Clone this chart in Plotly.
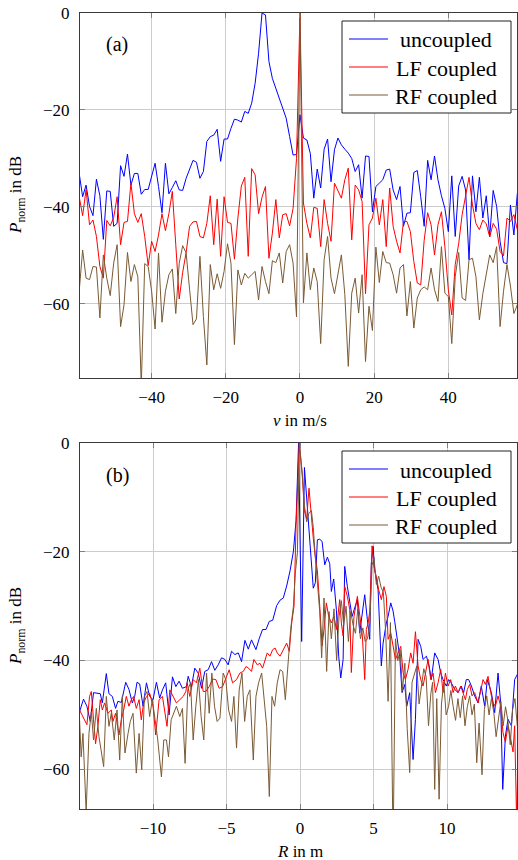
import plotly.graph_objects as go

SERIF = "'Liberation Serif', 'Times New Roman', serif"
BLUE = "#0000ff"
RED = "#ff0000"
BROWN = "rgb(122,90,52)"

# ---------------- (a) Doppler spectrum, P_norm in dB over v in m/s ----------------
V_STEP = 0.93
v_bins = [round(V_STEP * k, 2) for k in range(-64, 65)]

uncoupled_v = [
    -33.1, -37.9, -35.5, -39.9, -41.8, -34.3, -37.7, -46.7, -36.7, -36.8,
    -44.0, -43.4, -31.5, -33.7, -29.1, -35.5, -33.1, -33.1, -37.4, -36.4,
    -36.4, -33.4, -31.0, -35.8, -41.2, -31.0, -37.3, -36.0, -34.6, -36.5,
    -36.6, -34.1, -32.2, -30.4, -30.8, -34.1, -32.7, -26.5, -25.5, -25.2,
    -24.0, -30.6, -26.0, -26.0, -23.8, -21.9, -22.1, -22.5, -20.3, -20.7,
    -18.6, -14.5, -8.3, 0.0, -0.4, -10.0, -13.5, -15.5, -17.6, -19.3,
    -21.7, -25.5, -29.3, -29.2, -21.0, -25.8, -26.2, -29.0, -38.2, -32.2,
    -36.1, -28.1, -26.0, -34.8, -28.2, -25.8, -27.2, -28.1, -28.9, -30.0,
    -32.7, -31.3, -38.2, -29.5, -29.6, -41.0, -35.8, -35.1, -34.4, -32.4,
    -32.2, -36.5, -38.5, -35.8, -44.0, -41.3, -41.2, -32.9, -32.5, -37.9,
    -44.0, -30.4, -34.4, -29.5, -34.4, -37.7, -40.3, -45.1, -33.6, -46.1,
    -35.7, -33.7, -36.5, -50.9, -33.6, -41.0, -33.9, -42.3, -37.7, -46.1,
    -36.6, -39.9, -47.1, -51.5, -51.7, -39.6, -45.8, -37.2, -38.5,
]
lf_v = [
    -37.9, -41.8, -36.4, -43.7, -42.7, -46.1, -52.3, -54.7, -42.8, -43.9,
    -42.2, -37.9, -47.8, -43.2, -43.0, -35.1, -41.4, -43.2, -41.4, -46.1,
    -52.1, -47.1, -49.2, -45.8, -41.4, -44.9, -41.4, -36.8, -47.8, -59.0,
    -53.5, -49.4, -44.0, -43.1, -43.0, -46.1, -46.4, -43.4, -37.7, -47.8,
    -38.4, -50.2, -37.9, -43.2, -43.4, -50.8, -42.3, -35.7, -33.9, -50.2,
    -32.1, -33.4, -41.4, -38.0, -35.8, -50.6, -45.4, -38.5, -46.4, -41.6,
    -41.4, -43.9, -40.3, -30.0, 0.0, -39.2, -43.4, -46.4, -40.1, -40.3,
    -48.2, -38.5, -43.4, -47.1, -35.1, -36.8, -38.2, -34.4, -32.0, -46.8,
    -35.5, -36.5, -38.9, -57.9, -43.7, -42.3, -38.2, -43.7, -38.5, -48.2,
    -36.1, -44.0, -47.1, -49.5, -43.0, -43.0, -45.1, -51.3, -55.7, -56.1,
    -46.9, -41.2, -43.7, -49.9, -43.7, -41.0, -48.2, -57.1, -62.3, -51.9,
    -47.6, -41.6, -37.9, -33.9, -39.6, -43.4, -44.7, -42.7, -43.5, -46.2,
    -43.4, -44.6, -49.2, -50.1, -42.3, -43.0, -41.6, -44.7, -40.0,
]
rf_v = [
    -57.4, -48.9, -54.7, -55.0, -52.3, -52.4, -62.9, -49.9, -54.7, -58.3,
    -51.6, -47.8, -64.7, -60.2, -49.4, -55.4, -51.9, -54.4, -77.0, -51.7,
    -52.3, -57.4, -65.2, -49.5, -63.8, -57.4, -54.0, -52.8, -62.0, -51.6,
    -48.0, -49.5, -57.0, -64.3, -63.1, -50.2, -62.6, -72.6, -51.9, -57.1,
    -53.8, -56.8, -53.3, -47.6, -51.6, -68.4, -53.0, -56.1, -53.7, -54.7,
    -54.0, -53.3, -59.2, -52.3, -55.4, -57.9, -51.1, -51.5, -49.5, -55.7,
    -49.2, -47.8, -51.6, -62.7, 0.0, -59.8, -49.5, -57.1, -52.6, -55.4,
    -68.2, -50.9, -46.1, -54.7, -57.9, -53.7, -49.9, -58.1, -72.9, -57.8,
    -54.7, -61.9, -54.0, -71.9, -60.5, -65.5, -48.3, -55.6, -49.2, -51.5,
    -51.6, -54.0, -57.8, -52.6, -51.9, -62.5, -55.4, -65.0, -58.8, -57.1,
    -56.5, -57.1, -52.6, -57.1, -59.5, -48.2, -57.8, -58.5, -68.2, -54.4,
    -49.4, -58.8, -59.3, -50.9, -50.6, -54.4, -63.3, -57.9, -54.0, -49.9,
    -51.5, -48.2, -64.7, -57.4, -51.9, -56.3, -62.0, -60.2, -57.0,
]

# ---------------- (b) range profile, (R in m, P_norm in dB) ----------------
uncoupled_r = [
    (-15.0, -49.4), (-14.73, -47.1), (-14.5, -48.4), (-14.27, -51.2), (-14.05, -45.9),
    (-13.82, -46.0), (-13.59, -46.1), (-13.45, -47.8), (-13.18, -42.4), (-13.0, -46.1),
    (-12.77, -46.6), (-12.55, -48.8), (-12.39, -47.5), (-12.16, -47.7), (-11.86, -44.0),
    (-11.64, -45.3), (-11.41, -47.8), (-11.25, -46.6), (-11.09, -44.0), (-10.91, -44.3),
    (-10.68, -48.4), (-10.45, -44.1), (-10.23, -46.6), (-10.0, -47.2), (-9.77, -44.0),
    (-9.55, -46.9), (-9.36, -45.4), (-9.14, -44.1), (-8.91, -50.0), (-8.68, -43.0),
    (-8.45, -44.8), (-8.23, -43.8), (-8.0, -45.1), (-7.73, -44.8), (-7.61, -42.9),
    (-7.39, -44.8), (-7.16, -41.4), (-6.93, -42.3), (-6.7, -45.1), (-6.48, -42.0),
    (-6.25, -41.7), (-6.02, -40.2), (-5.8, -41.8), (-5.57, -40.8), (-5.34, -39.5),
    (-5.11, -39.8), (-4.89, -40.8), (-4.66, -38.3), (-4.43, -38.9), (-4.2, -38.6),
    (-3.98, -40.2), (-3.75, -36.3), (-3.52, -37.9), (-3.3, -36.2), (-3.0, -38.0),
    (-2.77, -35.9), (-2.55, -34.3), (-2.32, -34.3), (-2.09, -32.8), (-1.86, -32.6),
    (-1.59, -29.9), (-1.36, -28.9), (-1.14, -28.5), (-0.91, -26.3), (-0.68, -23.5),
    (-0.45, -19.9), (-0.27, -14.2), (-0.1, 0.0), (0.11, -36.5), (0.3, -4.5),
    (0.5, -12.0), (0.7, -21.0), (0.9, -26.7), (1.04, -25.7), (1.18, -17.8),
    (1.34, -17.7), (1.5, -18.1), (1.68, -22.4), (1.86, -21.0), (2.02, -22.2),
    (2.13, -27.3), (2.29, -25.0), (2.47, -30.6), (2.63, -39.2), (2.77, -43.2),
    (2.93, -39.8), (3.04, -22.7), (3.22, -26.4), (3.38, -28.8), (3.54, -31.9),
    (3.72, -30.3), (3.9, -28.8), (4.06, -34.9), (4.22, -31.3), (4.4, -27.9),
    (4.58, -32.5), (4.74, -36.1), (4.85, -22.1), (4.97, -19.0), (5.08, -23.3),
    (5.31, -27.0), (5.53, -41.0), (5.65, -36.8), (5.87, -33.1), (5.99, -31.9),
    (6.17, -29.4), (6.33, -30.9), (6.44, -32.8), (6.62, -36.1), (6.78, -39.2),
    (6.94, -45.9), (7.12, -44.4), (7.26, -48.4), (7.46, -45.9), (7.69, -58.2),
    (7.85, -50.8), (8.03, -36.1), (8.21, -37.4), (8.37, -39.8), (8.6, -39.2),
    (8.78, -41.0), (8.93, -43.5), (9.16, -38.6), (9.39, -39.8), (9.57, -42.3),
    (9.73, -43.5), (9.95, -44.7), (10.11, -43.5), (10.29, -44.1), (10.52, -45.3),
    (10.75, -45.9), (10.97, -44.7), (11.13, -45.9), (11.31, -43.5), (11.47, -43.5),
    (11.66, -44.7), (11.88, -46.5), (12.11, -47.8), (12.33, -44.7), (12.56, -48.4),
    (12.74, -43.5), (13.02, -45.9), (13.24, -49.6), (13.47, -42.3), (13.65, -47.8),
    (13.79, -63.7), (13.97, -53.9), (14.15, -50.8), (14.38, -52.0), (14.6, -43.5),
    (14.83, -42.3),
]
lf_r = [
    (-15.0, -49.1), (-14.82, -50.0), (-14.66, -50.9), (-14.5, -51.8), (-14.32, -46.6),
    (-14.2, -45.7), (-14.05, -50.9), (-13.91, -55.3), (-13.75, -52.1), (-13.59, -47.2),
    (-13.45, -49.1), (-13.3, -47.8), (-13.07, -49.7), (-12.84, -49.1), (-12.73, -51.2),
    (-12.55, -49.7), (-12.32, -53.7), (-12.16, -50.9), (-12.0, -49.1), (-11.82, -46.6),
    (-11.64, -48.4), (-11.48, -47.2), (-11.32, -46.6), (-11.14, -48.8), (-10.95, -47.2),
    (-10.8, -50.9), (-10.64, -47.8), (-10.45, -46.6), (-10.23, -46.0), (-10.0, -48.4),
    (-9.82, -53.7), (-9.59, -47.2), (-9.36, -46.6), (-9.2, -49.7), (-9.05, -52.1),
    (-8.86, -45.4), (-8.64, -46.6), (-8.41, -47.8), (-8.18, -47.2), (-7.95, -46.6),
    (-7.77, -45.7), (-7.68, -44.1), (-7.5, -46.6), (-7.27, -43.5), (-7.05, -44.1),
    (-6.82, -41.4), (-6.59, -45.7), (-6.41, -45.7), (-6.18, -44.8), (-5.95, -43.4),
    (-5.73, -43.5), (-5.5, -45.1), (-5.27, -44.8), (-5.05, -43.4), (-4.82, -41.7),
    (-4.59, -44.1), (-4.32, -43.5), (-4.09, -42.3), (-3.86, -42.0), (-3.68, -41.1),
    (-3.5, -41.4), (-3.3, -42.0), (-3.14, -39.8), (-2.91, -40.8), (-2.73, -40.5),
    (-2.55, -41.4), (-2.39, -40.2), (-2.23, -38.6), (-2.05, -39.2), (-1.86, -38.0),
    (-1.7, -37.7), (-1.55, -38.6), (-1.36, -39.2), (-1.14, -38.0), (-0.91, -36.8),
    (-0.73, -38.3), (-0.57, -33.1), (-0.41, -30.0), (-0.27, -15.0), (-0.05, 0.0),
    (0.15, -6.0), (0.3, -12.5), (0.45, -14.0), (0.61, -8.3), (0.77, -14.0),
    (0.9, -17.5), (1.04, -21.0), (1.18, -23.5), (1.34, -30.0), (1.5, -37.3),
    (1.63, -34.3), (1.79, -29.4), (1.95, -31.9), (2.13, -33.1), (2.31, -31.9),
    (2.47, -34.3), (2.7, -28.8), (2.81, -33.1), (2.93, -35.5), (3.04, -26.4),
    (3.22, -28.2), (3.38, -30.6), (3.49, -42.2), (3.67, -31.9), (3.9, -28.2),
    (4.06, -31.3), (4.24, -35.5), (4.4, -43.5), (4.51, -34.3), (4.63, -33.1),
    (4.74, -31.0), (4.9, -18.9), (5.03, -22.8), (5.19, -24.6), (5.35, -27.0),
    (5.53, -28.8), (5.71, -26.4), (5.87, -28.2), (5.99, -36.1), (6.17, -34.9),
    (6.33, -37.4), (6.49, -39.8), (6.67, -38.6), (6.85, -37.4), (7.01, -42.2),
    (7.17, -43.5), (7.35, -41.6), (7.53, -38.6), (7.69, -40.5), (7.85, -34.7),
    (8.03, -41.0), (8.21, -43.5), (8.37, -44.7), (8.53, -42.2), (8.71, -39.8),
    (8.89, -43.5), (9.05, -42.3), (9.21, -45.9), (9.39, -44.1), (9.57, -41.6),
    (9.73, -45.9), (9.89, -42.3), (10.07, -44.7), (10.25, -43.5), (10.41, -45.9),
    (10.57, -44.7), (10.75, -45.9), (10.93, -44.7), (11.09, -45.9), (11.25, -47.2),
    (11.38, -45.3), (11.54, -44.4), (11.7, -46.5), (11.88, -45.9), (12.11, -47.8),
    (12.29, -45.3), (12.45, -43.5), (12.61, -44.4), (12.79, -42.9), (12.97, -45.9),
    (13.13, -47.8), (13.29, -48.4), (13.47, -46.5), (13.65, -48.4), (13.81, -53.3),
    (13.97, -55.0), (14.15, -52.0), (14.33, -54.4), (14.49, -56.8), (14.6, -52.0),
    (14.73, -69.0), (14.9, -50.0),
]
rf_r = [
    (-15.0, -50.9), (-14.89, -57.7), (-14.77, -53.4), (-14.66, -60.7), (-14.55, -67.8),
    (-14.36, -53.4), (-14.2, -49.4), (-14.05, -54.6), (-13.86, -48.8), (-13.68, -54.0),
    (-13.5, -57.0), (-13.36, -59.5), (-13.18, -46.6), (-13.0, -52.1), (-12.84, -49.7),
    (-12.64, -54.6), (-12.45, -49.1), (-12.27, -58.3), (-12.09, -46.6), (-11.91, -57.0),
    (-11.7, -53.4), (-11.55, -51.2), (-11.36, -49.7), (-11.14, -60.7), (-10.95, -53.4),
    (-10.77, -60.1), (-10.59, -46.6), (-10.41, -45.7), (-10.23, -50.3), (-10.05, -47.2),
    (-9.86, -50.9), (-9.68, -54.6), (-9.43, -61.4), (-9.27, -54.6), (-9.09, -54.6),
    (-8.95, -57.7), (-8.77, -50.9), (-8.59, -49.7), (-8.41, -48.4), (-8.18, -50.3),
    (-8.0, -48.8), (-7.82, -58.9), (-7.64, -45.4), (-7.45, -44.1), (-7.27, -54.6),
    (-7.09, -48.4), (-6.91, -43.5), (-6.73, -50.3), (-6.55, -54.6), (-6.36, -42.3),
    (-6.18, -49.7), (-6.0, -42.3), (-5.82, -48.4), (-5.64, -51.2), (-5.45, -50.6),
    (-5.23, -42.3), (-5.05, -43.5), (-4.86, -49.1), (-4.66, -51.2), (-4.5, -46.6),
    (-4.32, -56.1), (-4.14, -45.4), (-3.95, -42.3), (-3.77, -51.2), (-3.59, -46.6),
    (-3.41, -45.4), (-3.18, -58.3), (-3.0, -46.6), (-2.82, -44.1), (-2.61, -42.3),
    (-2.45, -46.6), (-2.27, -52.1), (-2.09, -65.0), (-1.91, -46.6), (-1.73, -48.4),
    (-1.55, -44.1), (-1.36, -41.7), (-1.18, -42.0), (-1.0, -47.2), (-0.8, -39.2),
    (-0.64, -34.3), (-0.45, -30.0), (-0.32, -23.9), (-0.18, -20.2), (-0.05, 0.0),
    (0.15, -5.5), (0.3, -11.5), (0.45, -14.5), (0.59, -13.0), (0.77, -12.4),
    (0.9, -15.5), (1.04, -21.0), (1.18, -25.0), (1.34, -31.0), (1.47, -39.5),
    (1.63, -28.5), (1.81, -42.0), (1.97, -31.0), (2.13, -36.0), (2.31, -30.5),
    (2.49, -40.0), (2.65, -32.0), (2.81, -29.0), (2.97, -33.5), (3.13, -30.0),
    (3.29, -36.5), (3.45, -31.0), (3.61, -33.5), (3.77, -35.0), (3.93, -30.5),
    (4.11, -36.0), (4.27, -34.0), (4.43, -36.5), (4.59, -36.0), (4.75, -33.0),
    (4.9, -22.5), (5.03, -21.0), (5.19, -26.0), (5.35, -24.5), (5.51, -26.5),
    (5.67, -27.5), (5.83, -35.0), (5.99, -47.5), (6.15, -33.0), (6.33, -75.0),
    (6.49, -36.0), (6.65, -40.0), (6.81, -38.0), (6.97, -45.5), (7.13, -40.5),
    (7.29, -52.5), (7.46, -60.6), (7.62, -44.0), (7.78, -42.5), (7.94, -41.0),
    (8.1, -48.0), (8.26, -45.0), (8.42, -41.5), (8.58, -43.0), (8.74, -52.0),
    (8.9, -46.0), (9.02, -44.0), (9.16, -63.7), (9.3, -47.0), (9.46, -65.5),
    (9.62, -48.0), (9.78, -44.0), (9.94, -50.0), (10.1, -48.5), (10.26, -45.5),
    (10.42, -48.5), (10.58, -51.0), (10.74, -47.0), (10.9, -50.5), (11.06, -46.5),
    (11.22, -52.0), (11.38, -48.5), (11.54, -46.5), (11.7, -50.0), (11.86, -48.0),
    (12.02, -58.8), (12.18, -51.5), (12.38, -61.0), (12.54, -49.0), (12.7, -46.5),
    (12.86, -50.0), (13.02, -47.0), (13.18, -49.5), (13.34, -54.0), (13.5, -51.0),
    (13.66, -47.5), (13.82, -52.0), (13.98, -48.5), (14.14, -51.0), (14.3, -55.5),
    (14.46, -49.0), (14.62, -47.0), (14.78, -52.0), (14.94, -48.0),
]

SERIES = [("uncoupled", BLUE), ("LF coupled", RED), ("RF coupled", BROWN)]

# ---------------- figure ----------------
W, H = 518, 860
ML, MR, MT, MB = 80, 1, 13, 51
PW, PH = W - ML - MR, H - MT - MB


def px(x):
    return (x - ML) / PW


def py(y):
    return (H - MB - y) / PH


fig = go.Figure()
for (name, color), ys in zip(SERIES, [uncoupled_v, lf_v, rf_v]):
    fig.add_trace(go.Scatter(x=v_bins, y=ys, mode="lines", name=name,
                             line=dict(color=color, width=1), xaxis="x", yaxis="y",
                             showlegend=False))
for (name, color), pts in zip(SERIES, [uncoupled_r, lf_r, rf_r]):
    fig.add_trace(go.Scatter(x=[p[0] for p in pts], y=[p[1] for p in pts], mode="lines",
                             name=name, line=dict(color=color, width=1),
                             xaxis="x2", yaxis="y2", showlegend=False))

axis_style = dict(
    showline=True, linecolor="#3a3a3a", linewidth=1, mirror="ticks",
    ticks="inside", ticklen=5, tickwidth=1, tickcolor="#808080",
    showgrid=True, gridcolor="#cccccc", gridwidth=1, zeroline=False,
    tickfont=dict(family=SERIF, size=17, color="black"),
)

fig.update_layout(
    width=W, height=H,
    margin=dict(l=ML, r=MR, t=MT, b=MB),
    paper_bgcolor="white", plot_bgcolor="white",
    showlegend=False,
    font=dict(family=SERIF, size=17, color="black"),
    xaxis=dict(axis_style, domain=[0, 1], anchor="y", range=[-59.3, 58.5],
               tickvals=[-40, -20, 0, 20, 40], ticklabelstandoff=4),
    yaxis=dict(axis_style, domain=[py(378), 1], anchor="x", range=[-75.3, 0],
               tickvals=[-60, -40, -20, 0], ticklabelstandoff=6),
    xaxis2=dict(axis_style, domain=[0, 1], anchor="y2", range=[-14.97, 14.76],
                tickvals=[-10, -5, 0, 5, 10], ticklabelstandoff=4),
    yaxis2=dict(axis_style, domain=[0, py(443)], anchor="x2", range=[-67.3, 0],
                tickvals=[-60, -40, -20, 0], ticklabelstandoff=6),
)

shapes = []
annotations = []

# manual legends (box with centred text, like the pgfplots legend)
for box_top in (21, 451):
    box_bottom = box_top + 92
    shapes.append(dict(type="rect", xref="paper", yref="paper", layer="above",
                       x0=px(342), x1=px(511), y0=py(box_bottom), y1=py(box_top),
                       line=dict(color="#222222", width=1), fillcolor="white"))
    for i, (name, color) in enumerate(SERIES):
        row_y = box_top + 18 + 28 * i
        shapes.append(dict(type="line", xref="paper", yref="paper", layer="above",
                           x0=px(349), x1=px(388), y0=py(row_y), y1=py(row_y),
                           line=dict(color=color, width=1)))
        annotations.append(dict(text=name, xref="paper", yref="paper",
                                x=px(446), y=py(row_y + 1), xanchor="center",
                                yanchor="middle", showarrow=False,
                                font=dict(family=SERIF, size=22, color="black")))

# panel labels
annotations.append(dict(text="(a)", xref="paper", yref="paper", x=px(117), y=py(45),
                        xanchor="center", yanchor="middle", showarrow=False,
                        font=dict(family=SERIF, size=20, color="black")))
annotations.append(dict(text="(b)", xref="paper", yref="paper", x=px(117), y=py(475),
                        xanchor="center", yanchor="middle", showarrow=False,
                        font=dict(family=SERIF, size=20, color="black")))

# axis titles
ytitle = "<i>P</i><sub>norm</sub> in dB"
for yc in (195, 626):
    annotations.append(dict(text=ytitle, xref="paper", yref="paper", x=px(17), y=py(yc),
                            textangle=-90, xanchor="center", yanchor="middle",
                            showarrow=False, font=dict(family=SERIF, size=17, color="black")))
annotations.append(dict(text="<i>v</i> in m/s", xref="paper", yref="paper",
                        x=px(300), y=py(420), xanchor="center", yanchor="middle",
                        showarrow=False, font=dict(family=SERIF, size=17, color="black")))
annotations.append(dict(text="<i>R</i> in m", xref="paper", yref="paper",
                        x=px(300), y=py(851), xanchor="center", yanchor="middle",
                        showarrow=False, font=dict(family=SERIF, size=17, color="black")))

fig.update_layout(shapes=shapes, annotations=annotations)
fig.write_html("out.html")
